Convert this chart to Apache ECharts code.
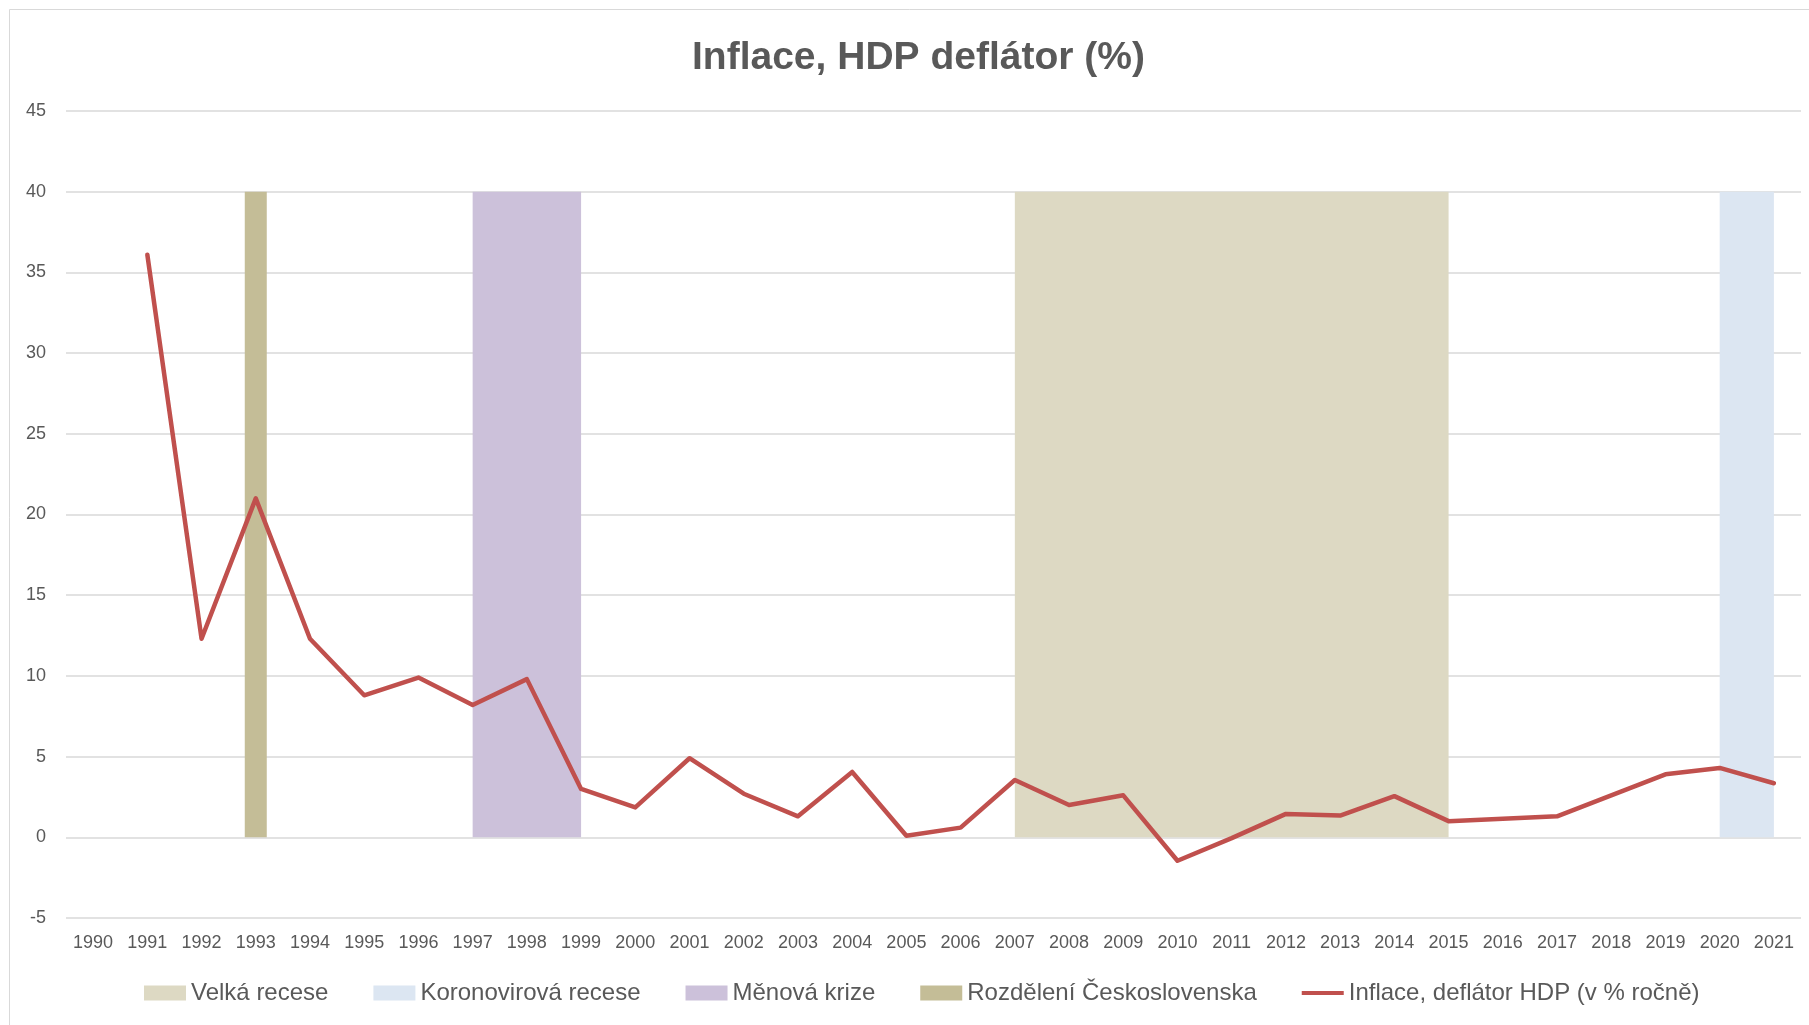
<!DOCTYPE html>
<html>
<head>
<meta charset="utf-8">
<script src="https://cdn.jsdelivr.net/npm/echarts@6/dist/echarts.min.js"></script>
<style>
html,body{margin:0;padding:0;background:#fff;}
#chart{width:1809px;height:1025px;}
</style>
</head>
<body>
<div id="chart"></div>
<script>
const years = ['1990','1991','1992','1993','1994','1995','1996','1997','1998','1999','2000','2001','2002','2003','2004','2005','2006','2007','2008','2009','2010','2011','2012','2013','2014','2015','2016','2017','2018','2019','2020','2021'];
const yTicks = [-5, 0, 5, 10, 15, 20, 25, 30, 35, 40, 45];
const inflace = [null, 36.1, 12.3, 21.0, 12.3, 8.8, 9.9, 8.2, 9.8, 3.0, 1.85, 4.9, 2.7, 1.3, 4.05, 0.1, 0.6, 3.55, 2.0, 2.6, -1.45, -0.05, 1.45, 1.35, 2.55, 1.0, 1.15, 1.3, 2.6, 3.9, 4.3, 3.35];
const velkaRecese = [null,null,null,null,null,null,null,null,null,null,null,null,null,null,null,null,null,40,40,40,40,40,40,40,40,40,null,null,null,null,null,null];
const koronovirovaRecese = [null,null,null,null,null,null,null,null,null,null,null,null,null,null,null,null,null,null,null,null,null,null,null,null,null,null,null,null,null,null,40,40];
const menovaKrize = [null,null,null,null,null,null,null,40,40,40,null,null,null,null,null,null,null,null,null,null,null,null,null,null,null,null,null,null,null,null,null,null];
const rozdeleni = [null,null,null,40,null,null,null,null,null,null,null,null,null,null,null,null,null,null,null,null,null,null,null,null,null,null,null,null,null,null,null,null];

const names = ['Velká recese','Koronovirová recese','Měnová krize','Rozdělení Československa','Inflace, deflátor HDP (v % ročně)'];
const FONT = '"Liberation Sans", Arial, sans-serif';
const TXT = '#595959';

function areaSeries(name, data, color) {
  return {
    name: name, type: 'line', data: data, symbol: 'none', showSymbol: false,
    lineStyle: { width: 0, opacity: 0 }, itemStyle: { color: color },
    areaStyle: { color: color, opacity: 1 }, z: 1, silent: true
  };
}

const chart = echarts.init(document.getElementById('chart'), null, { renderer: 'canvas' });
chart.setOption({
  animation: false,
  backgroundColor: '#ffffff',
  title: {
    text: 'Inflace, HDP deflátor (%)',
    left: 687, top: 34,
    textStyle: { fontFamily: FONT, fontSize: 39, fontWeight: 'bold', color: TXT }
  },
  graphic: [{
    type: 'rect', shape: { x: 9.5, y: 9.5, width: 1830, height: 1040 },
    style: { fill: null, stroke: '#d9d9d9', lineWidth: 1 }, z: -1
  }],
  legend: {
    left: 139, top: 976,
    itemWidth: 42, itemHeight: 15, itemGap: 45,
    textStyle: { fontFamily: FONT, fontSize: 24, color: TXT },
    data: [
      { name: names[0], icon: 'rect' },
      { name: names[1], icon: 'rect' },
      { name: names[2], icon: 'rect' },
      { name: names[3], icon: 'rect' },
      { name: names[4], icon: 'path://M0,0H46V4.5H0Z' }
    ]
  },
  grid: { left: 66, right: 8, top: 111, bottom: 107, containLabel: false },
  xAxis: {
    type: 'category', data: years, boundaryGap: true,
    axisLine: { show: false, onZero: false }, axisTick: { show: false },
    axisLabel: { fontFamily: FONT, fontSize: 18, color: TXT, margin: 16, interval: 0 }
  },
  yAxis: {
    type: 'value', min: yTicks[0], max: yTicks[yTicks.length - 1], interval: 5,
    axisLine: { show: false }, axisTick: { show: false },
    axisLabel: { fontFamily: FONT, fontSize: 18, color: TXT, margin: 20 },
    splitLine: { lineStyle: { color: '#d9d9d9', width: 1.5 } }
  },
  series: [
    areaSeries(names[0], velkaRecese, '#DDD9C3'),
    areaSeries(names[1], koronovirovaRecese, '#DCE6F2'),
    areaSeries(names[2], menovaKrize, '#CCC1DA'),
    {
      name: names[3], type: 'bar', data: rozdeleni, barWidth: 22, barGap: '-100%',
      itemStyle: { color: '#C4BD97' }, z: 1, silent: true
    },
    {
      name: names[4], type: 'line', data: inflace, symbol: 'none', showSymbol: false,
      lineStyle: { color: '#C0504D', width: 4.5, cap: 'round', join: 'round' },
      itemStyle: { color: '#C0504D' }, z: 3
    }
  ]
});
</script>
</body>
</html>
